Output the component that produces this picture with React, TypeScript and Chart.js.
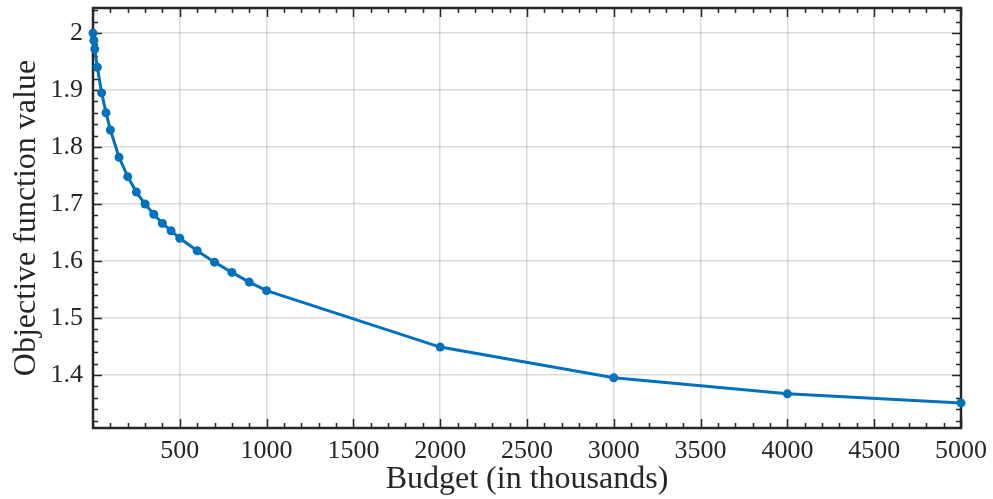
import React, { useEffect, useRef } from "react";
import { Chart, registerables } from "chart.js";

Chart.register(...registerables);

const budget = [0, 5, 10, 25, 50, 75, 100, 150, 200, 250, 300, 350, 400, 450, 500, 600, 700, 800, 900, 1000, 2000, 3000, 4000, 5000];
const objective = [2.0, 1.987, 1.972, 1.94, 1.895, 1.86, 1.83, 1.782, 1.748, 1.721, 1.7, 1.682, 1.666, 1.653, 1.64, 1.618, 1.598, 1.58, 1.563, 1.548, 1.449, 1.395, 1.367, 1.351];
const xTicks = [500, 1000, 1500, 2000, 2500, 3000, 3500, 4000, 4500, 5000];
const yTicks = [1.4, 1.5, 1.6, 1.7, 1.8, 1.9, 2];
const xRange = [0, 5000];
const yRange = [1.307, 2.044];
const xMinorStep = 100;
const yMinorStep = 0.02;

const FONT = "'Liberation Serif', 'Times New Roman', serif";
const TEXT = "#262626";

const framePlugin = {
  id: "frameTicks",
  beforeDatasetsDraw(chart: any) {
    const { ctx, chartArea } = chart;
    const { left, right, top, bottom } = chartArea;
    const xs = chart.scales.x;
    const ys = chart.scales.y;
    ctx.save();
    ctx.strokeStyle = TEXT;
    ctx.lineWidth = 1.5;
    ctx.beginPath();
    for (let v = xRange[0]; v <= xRange[1] + 1e-9; v += xMinorStep) {
      const px = Math.round(xs.getPixelForValue(v)) + 0.5;
      const major = xTicks.some((t) => Math.abs(t - v) < 1e-6);
      const len = major ? 9 : 5;
      ctx.moveTo(px, bottom);
      ctx.lineTo(px, bottom - len);
      ctx.moveTo(px, top);
      ctx.lineTo(px, top + len);
    }
    for (let i = Math.ceil(yRange[0] / yMinorStep); i * yMinorStep <= yRange[1] + 1e-9; i++) {
      const v = i * yMinorStep;
      const py = Math.round(ys.getPixelForValue(v)) + 0.5;
      const major = yTicks.some((t) => Math.abs(t - v) < 1e-6);
      const len = major ? 9 : 5;
      ctx.moveTo(left, py);
      ctx.lineTo(left + len, py);
      ctx.moveTo(right, py);
      ctx.lineTo(right - len, py);
    }
    ctx.stroke();
    ctx.lineWidth = 2.5;
    ctx.strokeRect(left, top, right - left, bottom - top);
    ctx.restore();
  },
};

export default function App() {
  const ref = useRef<HTMLCanvasElement>(null);
  useEffect(() => {
    if (!ref.current) return;
    const chart = new Chart(ref.current, {
      type: "line",
      data: {
        datasets: [
          {
            data: budget.map((b, i) => ({ x: b, y: objective[i] })),
            borderColor: "#0072BD",
            backgroundColor: "#0072BD",
            borderWidth: 3,
            pointRadius: 4.5,
            pointBorderWidth: 0,
            pointHoverRadius: 4.5,
            tension: 0,
            clip: false as any,
          },
        ],
      },
      options: {
        animation: false,
        responsive: false,
        maintainAspectRatio: false,
        events: [],
        layout: { padding: { left: 0, right: 32, top: 8, bottom: 0 } },
        plugins: { legend: { display: false }, tooltip: { enabled: false } },
        scales: {
          x: {
            type: "linear",
            min: xRange[0],
            max: xRange[1],
            afterBuildTicks: (s: any) => {
              s.ticks = xTicks.map((v) => ({ value: v }));
            },
            afterFit: (s: any) => {
              s.height = 71;
              s.paddingLeft = 0;
              s.paddingRight = 0;
            },
            ticks: {
              color: TEXT,
              font: { family: FONT, size: 26 },
              padding: 8,
              maxRotation: 0,
              autoSkip: false,
              callback: (v: any) => String(v),
            },
            grid: { color: "rgba(0,0,0,0.14)", lineWidth: 1.5, drawTicks: false },
            border: { display: false },
            title: {
              display: true,
              text: "Budget (in thousands)",
              color: TEXT,
              font: { family: FONT, size: 32 },
              padding: { top: 0, bottom: 0 },
            },
          },
          y: {
            type: "linear",
            min: yRange[0],
            max: yRange[1],
            afterBuildTicks: (s: any) => {
              s.ticks = yTicks.map((v) => ({ value: v }));
            },
            afterFit: (s: any) => {
              s.width = 93;
              s.paddingTop = 0;
              s.paddingBottom = 0;
            },
            ticks: {
              color: TEXT,
              font: { family: FONT, size: 26 },
              padding: 10,
              autoSkip: false,
              callback: (v: any) => String(v),
            },
            grid: { color: "rgba(0,0,0,0.14)", lineWidth: 1.5, drawTicks: false },
            border: { display: false },
            title: {
              display: true,
              text: "Objective function value",
              color: TEXT,
              font: { family: FONT, size: 32 },
              padding: { top: 7, bottom: 0 },
            },
          },
        },
      },
      plugins: [framePlugin],
    });
    return () => chart.destroy();
  }, []);
  return (
    <div style={{ position: "absolute", left: 0, top: 0, width: 993, height: 499, background: "#fff" }}>
      <canvas ref={ref} width={993} height={499} style={{ width: 993, height: 499 }} />
    </div>
  );
}
